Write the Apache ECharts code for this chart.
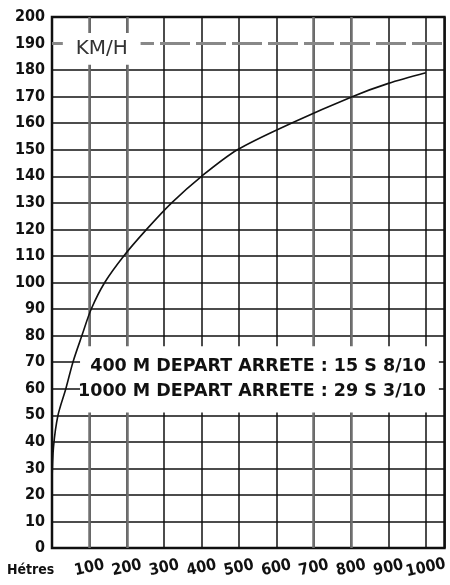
<!DOCTYPE html>
<html>
<head>
<meta charset="utf-8">
<title>KM/H - distance</title>
<script src="https://cdn.jsdelivr.net/npm/echarts@6/dist/echarts.min.js"></script>
<style>
  html, body { margin: 0; padding: 0; background: #fff; }
  #chart { width: 450px; height: 585px; }
</style>
</head>
<body>
<div id="chart"></div>
<script>
// courbe vitesse / distance
var distances = [0, 4, 16, 37, 56, 80, 105, 141, 192, 253, 320, 400, 496, 640, 803, 900, 1000];
var speeds    = [25, 38, 50, 60, 70, 80, 90, 100, 110, 120, 130, 140, 150, 160, 170, 175, 179];

var grayVerticals = [100, 200, 700, 800];
var dashedLevel = 190;
var unitLabel = 'KM/H';
var xUnitLabel = 'Hétres';
var notes = ['400 M DEPART ARRETE : 15 S 8/10', '1000 M DEPART ARRETE : 29 S 3/10'];

var labelFont = "'DejaVu Sans Condensed', 'DejaVu Sans', sans-serif";

// couleurs des lignes horizontales (190 remplace par la ligne pointillee)
var ySplitColors = [];
for (var i = 0; i <= 20; i++) {
  ySplitColors.push(i === 19 ? 'rgba(0,0,0,0)' : '#111');
}

var points = [];
for (var i = 0; i < distances.length; i++) {
  points.push([distances[i], speeds[i]]);
}

var myChart = echarts.init(document.getElementById('chart'));
var option = {
  animation: false,
  backgroundColor: '#fff',
  grid: {
    left: 52, right: 4, top: 17, bottom: 37,
    show: true,
    borderColor: '#111',
    borderWidth: 2.5
  },
  xAxis: {
    type: 'value',
    min: 0, max: 1050, interval: 100,
    axisLine: { show: false },
    axisTick: { show: false },
    splitLine: { show: true, lineStyle: { color: '#111', width: 1.5 } },
    axisLabel: {
      rotate: 12,
      align: 'center',
      margin: 20,
      color: '#111',
      fontFamily: labelFont,
      fontWeight: 'bold',
      fontSize: 16,
      formatter: function (v) { return (v === 0 || v > 1000) ? '' : String(v); }
    }
  },
  yAxis: {
    type: 'value',
    min: 0, max: 200, interval: 10,
    axisLine: { show: false },
    axisTick: { show: false },
    splitLine: { show: true, lineStyle: { color: ySplitColors, width: 1.5 } },
    axisLabel: {
      margin: 7,
      color: '#111',
      fontFamily: labelFont,
      fontWeight: 'bold',
      fontSize: 16
    }
  },
  graphic: [{
    type: 'text',
    left: 7, top: 563,
    style: {
      text: xUnitLabel,
      fill: '#111',
      font: 'bold 14px ' + labelFont
    }
  }],
  series: [
    {
      // lignes grises + pointilles a 190
      type: 'line',
      data: [],
      silent: true,
      markLine: {
        z: 1,
        silent: true,
        symbol: 'none',
        label: { show: false },
        lineStyle: { color: '#707070', width: 2.5, type: 'solid' },
        data: grayVerticals.map(function (v) { return { xAxis: v }; }).concat([
          { yAxis: dashedLevel, lineStyle: { color: '#888', width: 3, type: [30, 6] } }
        ])
      }
    },
    {
      // cadres blancs pour les textes
      type: 'line',
      data: [],
      silent: true,
      markArea: {
        z: 2,
        silent: true,
        itemStyle: { color: '#fff' },
        data: [
          [
            {
              xAxis: 29, yAxis: 194,
              label: {
                show: true,
                position: 'inside',
                formatter: unitLabel,
                color: '#333',
                fontFamily: "'DejaVu Sans', sans-serif",
                fontSize: 20
              }
            },
            { xAxis: 237, yAxis: 182 }
          ],
          [
            {
              xAxis: 75, yAxis: 76,
              label: {
                show: true,
                position: 'insideRight',
                distance: 13,
                formatter: notes.join('\n'),
                align: 'right',
                lineHeight: 25,
                padding: [8, 0, 0, 0],
                color: '#111',
                fontFamily: "'DejaVu Sans', sans-serif",
                fontWeight: 'bold',
                fontSize: 17.5
              }
            },
            { xAxis: 1035, yAxis: 51 }
          ]
        ]
      }
    },
    {
      type: 'line',
      z: 3,
      data: points,
      smooth: 0.3,
      showSymbol: false,
      lineStyle: { color: '#111', width: 1.6 }
    }
  ]
};
myChart.setOption(option);
</script>
</body>
</html>
